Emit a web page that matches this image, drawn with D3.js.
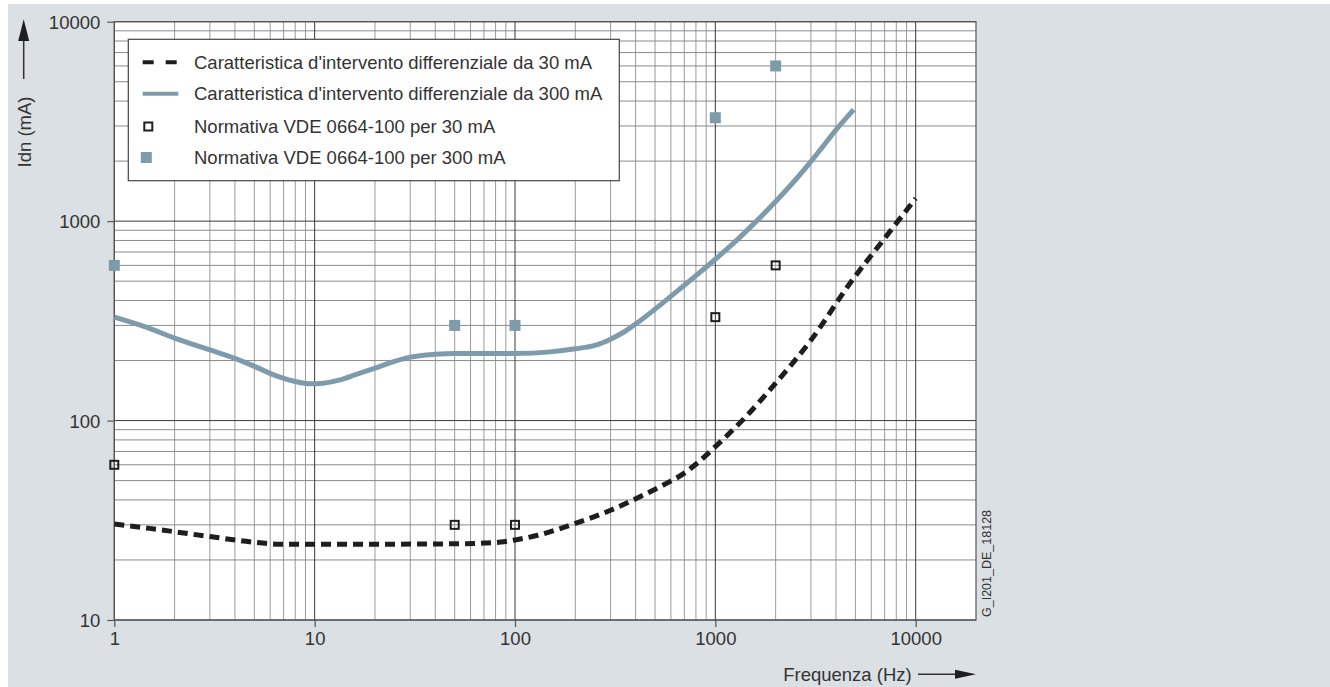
<!DOCTYPE html>
<html>
<head>
<meta charset="utf-8">
<script src="https://cdn.jsdelivr.net/npm/d3@7"></script>
<style>
  html, body { margin: 0; padding: 0; background: #ffffff; }
  svg { display: block; }
  text { font-family: "Liberation Sans", Arial, sans-serif; fill: #333333; }
</style>
</head>
<body>
<svg id="chart" width="1330" height="687"></svg>
<script>
// ---- data ----
const freq30 = [1, 1.5, 2, 3, 4.4, 5.5, 6.7, 10, 20, 50, 70, 85, 100, 130, 160, 200, 300, 420, 550, 700, 840, 1000, 1400, 2000, 3000, 4700, 7000, 10000];
const idn30  = [30.3, 28.8, 27.7, 26.2, 24.9, 24.3, 24.0, 24.0, 24.0, 24.1, 24.3, 24.6, 25.2, 26.6, 28.3, 30.5, 35.5, 41.5, 47.5, 54.5, 63, 74, 103, 154, 253, 488, 820, 1300];

const freq300 = [1, 1.5, 2, 3, 4, 5, 6.5, 8, 9.5, 11, 13.4, 16, 20, 25, 30, 40, 50, 70, 100, 150, 200, 250, 300, 350, 420, 500, 645, 800, 1000, 1300, 1600, 2000, 2500, 2900, 3400, 3900, 4900];
const idn300  = [330, 290, 259, 226, 205, 187, 167, 157, 153, 154, 160, 170, 183, 198, 208, 215, 217, 217, 217, 221, 229, 238, 256, 278, 316, 362, 446, 533, 644, 815, 997, 1254, 1603, 1909, 2329, 2776, 3620];

const normFreq = [1, 50, 100, 1000, 2000];
const norm30   = [60, 30, 30, 330, 600];
const norm300  = [600, 300, 300, 3300, 6000];

const xTicks = [1, 10, 100, 1000, 10000];
const yTicks = [10, 100, 1000, 10000];
const xDomain = [1, 20000];
const yDomain = [10, 10000];

const legendLabels = [
  "Caratteristica d'intervento differenziale da 30 mA",
  "Caratteristica d'intervento differenziale da 300 mA",
  "Normativa VDE 0664-100 per 30 mA",
  "Normativa VDE 0664-100 per 300 mA"
];
const xTitle = "Frequenza (Hz)";
const yTitle = "Idn (mA)";
const codeLabel = "G_I201_DE_18128";

// ---- layout ----
const BLUE = "#7e9bac";
const DARK = "#1e1e1e";
const svg = d3.select("#chart");

svg.append("rect").attr("x", 8).attr("y", 4).attr("width", 1322).attr("height", 683).attr("fill", "#dbe0e4");

const L = 114.3, R = 976, T = 21.7, B = 620;
const x = d3.scaleLog().domain(xDomain).range([L, R]);
const y = d3.scaleLog().domain(yDomain).range([B, T]);

svg.append("rect").attr("x", L).attr("y", T).attr("width", R - L).attr("height", B - T).attr("fill", "#ffffff");

// minor grid
const xMinor = [];
for (let d = 1; d <= 10000; d *= 10) for (let k = 2; k <= 9; k++) if (k * d < xDomain[1]) xMinor.push(k * d);
const yMinor = [];
for (let d = 10; d < 10000; d *= 10) for (let k = 2; k <= 9; k++) yMinor.push(k * d);

const grid = svg.append("g");
grid.selectAll(".vx").data(xMinor).enter().append("line")
  .attr("x1", d => x(d)).attr("x2", d => x(d)).attr("y1", T).attr("y2", B)
  .attr("stroke", "#9a9a9a").attr("stroke-width", 1);
grid.selectAll(".hy").data(yMinor).enter().append("line")
  .attr("y1", d => y(d)).attr("y2", d => y(d)).attr("x1", L).attr("x2", R)
  .attr("stroke", "#8a8a8a").attr("stroke-width", 1);
grid.selectAll(".VX").data(xTicks).enter().append("line")
  .attr("x1", d => x(d)).attr("x2", d => x(d)).attr("y1", T).attr("y2", B)
  .attr("stroke", "#3a3a3a").attr("stroke-width", 1);
grid.selectAll(".HY").data(yTicks).enter().append("line")
  .attr("y1", d => y(d)).attr("y2", d => y(d)).attr("x1", L).attr("x2", R)
  .attr("stroke", "#3a3a3a").attr("stroke-width", 1);

svg.append("rect").attr("x", L).attr("y", T).attr("width", R - L).attr("height", B - T)
  .attr("fill", "none").attr("stroke", "#555555").attr("stroke-width", 1.2);

// axes
const xAxis = d3.axisBottom(x).tickValues(xTicks).tickFormat(d3.format("d")).tickSize(7).tickPadding(6);
const yAxis = d3.axisLeft(y).tickValues(yTicks).tickFormat(d3.format("d")).tickSize(7).tickPadding(6);
const gx = svg.append("g").attr("transform", `translate(0,${B})`).call(xAxis);
const gy = svg.append("g").attr("transform", `translate(${L},0)`).call(yAxis);
[gx, gy].forEach(g => {
  g.select(".domain").remove();
  g.selectAll(".tick line").attr("stroke", "#555555").attr("stroke-width", 1.2);
  g.selectAll(".tick text").attr("fill", "#333333").style("font-size", "18.5px")
    .style("font-family", '"Liberation Sans", Arial, sans-serif');
});
gx.selectAll(".tick text").attr("y", 12).attr("dy", "0.71em");
gy.selectAll(".tick text").attr("x", -14).attr("dy", "0.36em");

// curves
const line = d3.line().x(d => x(d[0])).y(d => y(d[1])).curve(d3.curveMonotoneX);
svg.append("path").datum(freq300.map((f, i) => [f, idn300[i]]))
  .attr("d", line).attr("fill", "none").attr("stroke", BLUE).attr("stroke-width", 5);
svg.append("path").datum(freq30.map((f, i) => [f, idn30[i]]))
  .attr("d", line).attr("fill", "none").attr("stroke", DARK).attr("stroke-width", 5)
  .attr("stroke-dasharray", "10,6");

// markers
svg.selectAll(".n300").data(normFreq).enter().append("rect")
  .attr("x", (d) => x(d) - 5.5).attr("y", (d, i) => y(norm300[i]) - 5.5)
  .attr("width", 11).attr("height", 11).attr("fill", BLUE);
svg.selectAll(".n30").data(normFreq).enter().append("rect")
  .attr("x", (d) => x(d) - 4).attr("y", (d, i) => y(norm30[i]) - 4)
  .attr("width", 8).attr("height", 8).attr("fill", "none").attr("stroke", DARK).attr("stroke-width", 2);

// legend
const lg = svg.append("g");
lg.append("rect").attr("x", 128.3).attr("y", 39.3).attr("width", 491).attr("height", 141.4)
  .attr("fill", "#ffffff").attr("stroke", "#444444").attr("stroke-width", 1.2);
const rowY = [62.3, 93.8, 126.5, 157.5];
lg.append("line").attr("x1", 142.7).attr("x2", 177.3).attr("y1", rowY[0]).attr("y2", rowY[0])
  .attr("stroke", DARK).attr("stroke-width", 4).attr("stroke-dasharray", "11,12");
lg.append("line").attr("x1", 142.7).attr("x2", 178.3).attr("y1", rowY[1]).attr("y2", rowY[1])
  .attr("stroke", BLUE).attr("stroke-width", 4);
lg.append("rect").attr("x", 144.3).attr("y", rowY[2] - 4).attr("width", 8).attr("height", 8)
  .attr("fill", "none").attr("stroke", DARK).attr("stroke-width", 2);
lg.append("rect").attr("x", 140.8).attr("y", rowY[3] - 5.5).attr("width", 11).attr("height", 11)
  .attr("fill", BLUE);
lg.selectAll(".lt").data(legendLabels).enter().append("text")
  .attr("x", 194).attr("y", (d, i) => rowY[i]).attr("dy", "0.36em")
  .style("font-size", "18.5px").text(d => d);

// y title + arrow
svg.append("text").attr("transform", "translate(30.5,132) rotate(-90)")
  .attr("text-anchor", "middle").style("font-size", "18.5px").text(yTitle);
svg.append("line").attr("x1", 23.7).attr("x2", 23.7).attr("y1", 79).attr("y2", 38)
  .attr("stroke", "#333333").attr("stroke-width", 1.5);
svg.append("path").attr("d", "M23.7,19.3 L29.2,41 L18.2,41 Z").attr("fill", "#1e1e1e");

// x title + arrow
svg.append("text").attr("x", 911.7).attr("y", 674.3).attr("dy", "0.36em")
  .attr("text-anchor", "end").style("font-size", "18.5px").text(xTitle);
svg.append("line").attr("x1", 918).attr("x2", 957).attr("y1", 674.3).attr("y2", 674.3)
  .attr("stroke", "#333333").attr("stroke-width", 1.5);
svg.append("path").attr("d", "M976,674.3 L955,669.8 L955,678.8 Z").attr("fill", "#1e1e1e");

// code label
svg.append("text").attr("transform", "translate(990.5,617) rotate(-90)")
  .attr("text-anchor", "start").style("font-size", "12.5px").text(codeLabel);
</script>
</body>
</html>
